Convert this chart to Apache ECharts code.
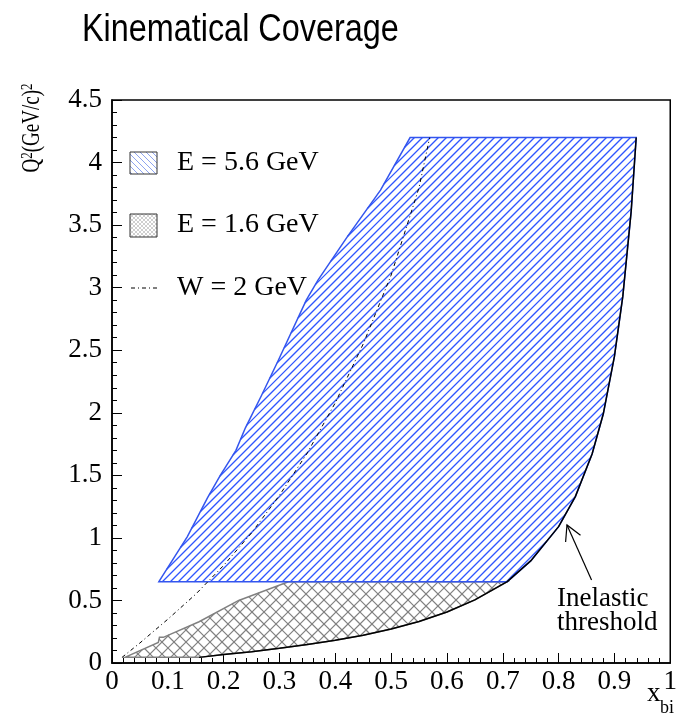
<!DOCTYPE html>
<html><head><meta charset="utf-8">
<script src="https://cdn.jsdelivr.net/npm/echarts@6/dist/echarts.min.js"></script>
<style>html,body{margin:0;padding:0;background:#fff}#c{width:680px;height:715px}</style>
</head><body><div id="c"></div>
<script>
// ---- data ----
const titleText = 'Kinematical Coverage';
const legendLabels = ['E = 5.6 GeV', 'E = 1.6 GeV', 'W = 2 GeV'];
const xMin = 0, xMax = 1, xStep = 0.1;
const yMin = 0, yMax = 4.5, yStep = 0.5;

// inelastic threshold curve
const thresholdX  = [0.156, 0.2, 0.25, 0.3, 0.35, 0.4, 0.45, 0.5, 0.55, 0.6, 0.65, 0.708, 0.75, 0.8, 0.83, 0.86, 0.88, 0.9, 0.915, 0.93, 0.939];
const thresholdQ2 = [0.045, 0.068, 0.09, 0.117, 0.147, 0.181, 0.222, 0.272, 0.332, 0.408, 0.505, 0.65, 0.816, 1.09, 1.33, 1.67, 1.99, 2.45, 2.93, 3.61, 4.2];

// W = 2 GeV line
const wLineX  = [0.018, 0.05, 0.1, 0.15, 0.2, 0.25, 0.3, 0.35, 0.4, 0.45, 0.5, 0.55, 0.569];
const wLineQ2 = [0.045, 0.16, 0.35, 0.55, 0.78, 1.04, 1.34, 1.68, 2.08, 2.55, 3.1, 3.8, 4.2];

// E = 5.6 GeV region: left edge (bottom to top), Q2 floor
const hiLeftX  = [0.084, 0.135, 0.171, 0.194, 0.222, 0.239, 0.268, 0.298, 0.348, 0.369, 0.422, 0.481, 0.534];
const hiLeftQ2 = [0.65, 1.01, 1.32, 1.50, 1.70, 1.88, 2.14, 2.42, 2.90, 3.06, 3.41, 3.78, 4.2];
const hiQ2Floor = 0.65;

// E = 1.6 GeV region: upper edge (left to right), Q2 floor
const loTopX  = [0.023, 0.083, 0.085, 0.092, 0.156, 0.227, 0.316, 0.708];
const loTopQ2 = [0.045, 0.165, 0.205, 0.205, 0.33, 0.50, 0.65, 0.65];
const loQ2Floor = 0.045;

// arrow (tail -> head) pointing to the threshold
const arrowX  = [0.859, 0.815];
const arrowQ2 = [0.663, 1.103];

// ---- helpers ----
// hatch segments of a polygon (pixel coords); dir 1 => '/', dir -1 => '\'
function hatchSegments(pts, step, dir) {
  const f = p => p[0] + dir * p[1];
  let cmin = Infinity, cmax = -Infinity;
  pts.forEach(p => { const v = f(p); cmin = Math.min(cmin, v); cmax = Math.max(cmax, v); });
  const segs = [];
  const n = pts.length;
  for (let c = Math.ceil(cmin / step) * step; c <= cmax; c += step) {
    const hits = [];
    for (let i = 0; i < n; i++) {
      const a = pts[i], b = pts[(i + 1) % n];
      const fa = f(a) - c, fb = f(b) - c;
      if ((fa < 0) !== (fb < 0)) {
        const t = fa / (fa - fb);
        hits.push([a[0] + t * (b[0] - a[0]), a[1] + t * (b[1] - a[1])]);
      }
    }
    hits.sort((p, q) => p[0] - q[0]);
    for (let k = 0; k + 1 < hits.length; k += 2) segs.push([hits[k], hits[k + 1]]);
  }
  return segs;
}
function segEls(segs, color, lw) {
  return segs.map(s => ({ type: 'line', silent: true,
    shape: { x1: s[0][0], y1: s[0][1], x2: s[1][0], y2: s[1][1] },
    style: { stroke: color, lineWidth: lw, fill: null } }));
}

const BLUE = '#3355ee';
const HATCH_BLUE = '#2f56ff';
const GRAY = '#808080';

// polygons assembled from the arrays above
const hiPolyX = hiLeftX.slice(), hiPolyQ = hiLeftQ2.slice();
for (let i = thresholdX.length - 1; i >= 0; i--) {
  if (thresholdQ2[i] >= hiQ2Floor) { hiPolyX.push(thresholdX[i]); hiPolyQ.push(thresholdQ2[i]); }
}
const loPolyX = loTopX.slice(), loPolyQ = loTopQ2.slice();
for (let i = thresholdX.length - 1; i >= 0; i--) {
  if (thresholdQ2[i] < hiQ2Floor) { loPolyX.push(thresholdX[i]); loPolyQ.push(thresholdQ2[i]); }
}
loPolyX.push(loTopX[0]); loPolyQ.push(loQ2Floor);

function hatchedPolySeries(xs, ys, color, hatchColor, step, dirs, lw, hlw) {
  return {
    type: 'custom', data: [0], silent: true, clip: true,
    renderItem: function (params, api) {
      const pts = xs.map(function (x, i) { return api.coord([x, ys[i]]); });
      let children = [{ type: 'polygon', shape: { points: pts }, style: { fill: '#fff', stroke: null } }];
      dirs.forEach(d => { children = children.concat(segEls(hatchSegments(pts, step, d), hatchColor, hlw)); });
      children.push({ type: 'polygon', shape: { points: pts }, style: { fill: null, stroke: color, lineWidth: lw } });
      return { type: 'group', children: children };
    }
  };
}
const zip = (a, b) => a.map((v, i) => [v, b[i]]);

// legend boxes (pixel layout)
function legendBox(x, y, w, h, color, step, dirs) {
  const pts = [[x, y], [x + w, y], [x + w, y + h], [x, y + h]];
  let els = [];
  dirs.forEach(d => { els = els.concat(segEls(hatchSegments(pts, step, d), color, 1)); });
  els.push({ type: 'rect', shape: { x: x, y: y, width: w, height: h }, style: { fill: null, stroke: '#333', lineWidth: 1 } });
  return els;
}

const SERIF = "'Liberation Serif','Times New Roman',serif";
const chart = echarts.init(document.getElementById('c'), null, { renderer: 'canvas' });
chart.setOption({
  backgroundColor: '#fff',
  animation: false,
  grid: { left: 112, top: 100, right: 4, bottom: 52, show: true, borderColor: '#000', borderWidth: 1.5, backgroundColor: 'transparent' },
  xAxis: {
    type: 'value', min: xMin, max: xMax, interval: xStep,
    axisLine: { show: true, onZero: false, lineStyle: { color: '#000', width: 1.5 } },
    axisTick: { show: true, inside: true, length: 10, lineStyle: { color: '#000', width: 1 } },
    minorTick: { show: true, splitNumber: 5, length: 5, lineStyle: { color: '#000', width: 1 } },
    splitLine: { show: false },
    axisLabel: { fontFamily: SERIF, fontSize: 27, color: '#000', margin: 5, showMinLabel: true, showMaxLabel: true }
  },
  yAxis: {
    type: 'value', min: yMin, max: yMax, interval: yStep,
    axisLine: { show: true, onZero: false, lineStyle: { color: '#000', width: 1.5 } },
    axisTick: { show: true, inside: true, length: 10, lineStyle: { color: '#000', width: 1 } },
    minorTick: { show: true, splitNumber: 5, length: 5, lineStyle: { color: '#000', width: 1 } },
    splitLine: { show: false },
    axisLabel: { fontFamily: SERIF, fontSize: 27, color: '#000', margin: 10, showMinLabel: true, showMaxLabel: true }
  },
  series: [
    hatchedPolySeries(loPolyX, loPolyQ, GRAY, GRAY, 12, [1, -1], 1.5, 1.2),
    hatchedPolySeries(hiPolyX, hiPolyQ, BLUE, HATCH_BLUE, 8, [1], 1.5, 1.3),
    { type: 'line', data: zip(thresholdX, thresholdQ2), showSymbol: false, silent: true,
      lineStyle: { color: '#000', width: 1.5 } },
    { type: 'line', data: zip(wLineX, wLineQ2), showSymbol: false, silent: true,
      lineStyle: { color: '#000', width: 1, type: [4, 3, 1, 3] } },
    { type: 'custom', data: [0], silent: true,
      renderItem: function (params, api) {
        const t = api.coord([arrowX[0], arrowQ2[0]]);
        const h = api.coord([arrowX[1], arrowQ2[1]]);
        const ang = Math.atan2(t[1] - h[1], t[0] - h[0]);
        const L = 17, sp = 0.5;
        const w1 = [h[0] + L * Math.cos(ang + sp), h[1] + L * Math.sin(ang + sp)];
        const w2 = [h[0] + L * Math.cos(ang - sp), h[1] + L * Math.sin(ang - sp)];
        return { type: 'group', children: [
          { type: 'line', shape: { x1: t[0], y1: t[1], x2: h[0], y2: h[1] }, style: { stroke: '#000', lineWidth: 1.2 } },
          { type: 'polyline', shape: { points: [w1, h, w2] }, style: { stroke: '#000', lineWidth: 1.2, fill: null } }
        ] };
      } }
  ],
  graphic: [
    { type: 'text', x: 82, y: 11, scaleX: 0.83, style: { text: titleText, font: "39px 'Liberation Sans',Arial,sans-serif", fill: '#000', verticalAlign: 'top' } },
    // y-axis title (rotated group, text condensed along its reading direction)
    { type: 'group', x: 32, y: 128, rotation: Math.PI / 2, children: [
      { type: 'text', x: 0, y: 0, scaleX: 0.76,
        style: { text: '{a|Q}{s|2}{a|(GeV/c)}{s|2}', align: 'center', verticalAlign: 'middle',
          rich: { a: { fontFamily: SERIF, fontSize: 25, fill: '#000' }, s: { fontFamily: SERIF, fontSize: 17, verticalAlign: 'top', fill: '#000' } } } }
    ] },
    // x-axis title
    { type: 'text', x: 647, y: 707, style: { text: 'x', font: '27px ' + SERIF, fill: '#000', verticalAlign: 'bottom' } },
    { type: 'text', x: 660, y: 717, style: { text: 'bi', font: '18px ' + SERIF, fill: '#000', verticalAlign: 'bottom' } },
    // legend
    ...legendBox(130, 152, 27, 22, '#8ea4f0', 6, [-1]),
    { type: 'text', x: 177, y: 163, style: { text: legendLabels[0], font: '28px ' + SERIF, fill: '#000', verticalAlign: 'middle' } },
    ...legendBox(130, 214, 27, 23, '#cfcfcf', 4, [1, -1]),
    { type: 'text', x: 177, y: 225, style: { text: legendLabels[1], font: '28px ' + SERIF, fill: '#000', verticalAlign: 'middle' } },
    { type: 'line', shape: { x1: 131, y1: 288, x2: 157, y2: 288 }, style: { stroke: '#000', lineWidth: 1, lineDash: [4, 3, 1, 3] } },
    { type: 'text', x: 177, y: 288, style: { text: legendLabels[2], font: '28px ' + SERIF, fill: '#000', verticalAlign: 'middle' } },
    // annotation
    { type: 'text', x: 557, y: 599, style: { text: 'Inelastic', font: '27px ' + SERIF, fill: '#000', verticalAlign: 'middle' } },
    { type: 'text', x: 557, y: 623, style: { text: 'threshold', font: '27px ' + SERIF, fill: '#000', verticalAlign: 'middle' } }
  ]
});
</script></body></html>
